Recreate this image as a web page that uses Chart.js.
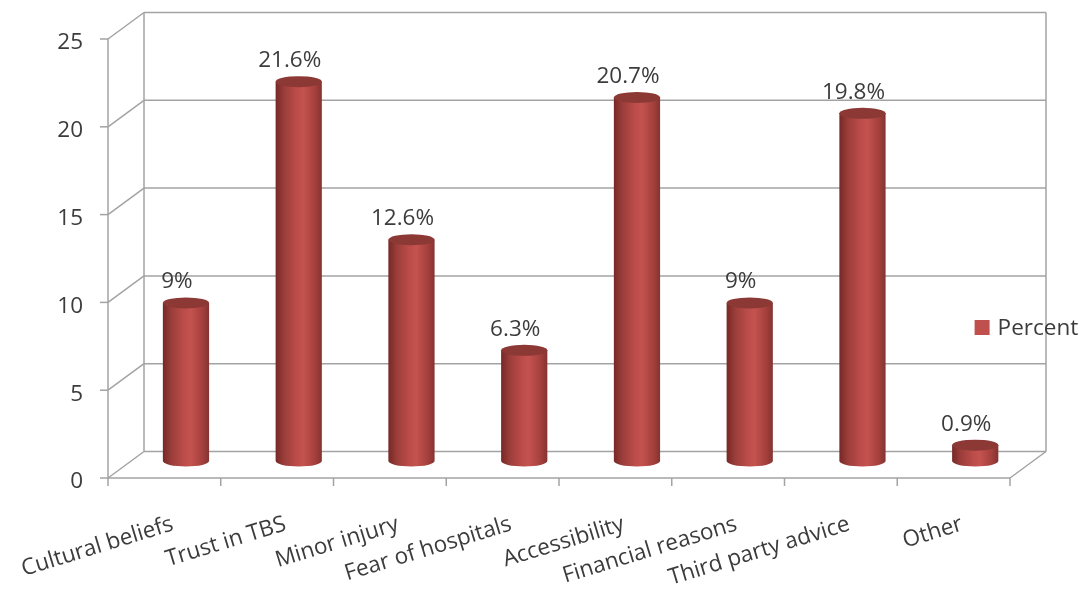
<!DOCTYPE html>
<html lang="en">
<head>
    <meta charset="UTF-8">
    <meta name="viewport" content="width=device-width, initial-scale=1.0">
    <title>Reasons for choosing TBS</title>
    <script src="https://cdn.jsdelivr.net/npm/chart.js"></script>
    <style>
        html, body { margin: 0; padding: 0; background: #fff; }
        #wrap { width: 1083px; height: 591px; position: relative; }
    </style>
</head>
<body>
    <div id="wrap">
        <canvas id="reasons-chart"></canvas>
    </div>

    <script>
        // Chart data
        const categories = ['Cultural beliefs', 'Trust in TBS', 'Minor injury', 'Fear of hospitals',
                            'Accessibility', 'Financial reasons', 'Third party advice', 'Other'];
        const percentValues = [9, 21.6, 12.6, 6.3, 20.7, 9, 19.8, 0.9];
        const yTicks = [0, 5, 10, 15, 20, 25];
        const seriesName = 'Percent';

        // 3D look: the bars sit on a middle plane, the axes in front, the walls behind
        const FRONT = { dx: -21.6, dy: 17 };
        const BACK = { dx: 14.4, dy: -9.5 };
        const BAR_PCT = 0.41;
        const CAP_RY = 5.5;
        const FONT = '22.5px "Open Sans"';
        const TEXT_COLOR = '#3c3c3c';
        const LINE_COLOR = '#a3a3a3';

        function cylinderGradient(ctx, x, half) {
            const g = ctx.createLinearGradient(x - half, 0, x + half, 0);
            g.addColorStop(0, '#762826');
            g.addColorStop(0.18, '#9a3d3a');
            g.addColorStop(0.45, '#bb4c49');
            g.addColorStop(0.6, '#c4534f');
            g.addColorStop(0.85, '#a5403d');
            g.addColorStop(1, '#843331');
            return g;
        }

        function line(ctx, x1, y1, x2, y2) {
            ctx.beginPath();
            ctx.moveTo(x1, y1);
            ctx.lineTo(x2, y2);
            ctx.stroke();
        }

        const frame3d = {
            id: 'frame3d',
            beforeDatasetsDraw(chart) {
                const { ctx, chartArea: a, scales: { x, y } } = chart;
                const y0 = y.getPixelForValue(0);
                const yTop = y.getPixelForValue(yTicks[yTicks.length - 1]);
                ctx.save();
                ctx.strokeStyle = LINE_COLOR;
                ctx.lineWidth = 1.5;

                // back wall gridlines + diagonals to the front axis
                yTicks.forEach(v => {
                    const py = y.getPixelForValue(v);
                    line(ctx, a.left + BACK.dx, py + BACK.dy, a.right + BACK.dx, py + BACK.dy);
                    line(ctx, a.left + FRONT.dx, py + FRONT.dy, a.left + BACK.dx, py + BACK.dy);
                    // tick mark on the front axis
                    line(ctx, a.left + FRONT.dx - 8, py + FRONT.dy, a.left + FRONT.dx, py + FRONT.dy);
                });
                line(ctx, a.left + BACK.dx, yTop + BACK.dy, a.left + BACK.dx, y0 + BACK.dy);
                line(ctx, a.right + BACK.dx, yTop + BACK.dy, a.right + BACK.dx, y0 + BACK.dy);

                // front value axis
                line(ctx, a.left + FRONT.dx, yTop + FRONT.dy, a.left + FRONT.dx, y0 + FRONT.dy);

                // front floor edge and its right diagonal
                line(ctx, a.left + FRONT.dx, y0 + FRONT.dy, a.right + FRONT.dx, y0 + FRONT.dy);
                line(ctx, a.right + FRONT.dx, y0 + FRONT.dy, a.right + BACK.dx, y0 + BACK.dy);

                // category tick marks
                const step = a.width / categories.length;
                for (let k = 0; k <= categories.length; k++) {
                    const px = a.left + k * step + FRONT.dx;
                    line(ctx, px, y0 + FRONT.dy, px, y0 + FRONT.dy + 8);
                }
                ctx.restore();
            },
            afterDatasetsDraw(chart) {
                const { ctx, chartArea: a, scales: { x, y } } = chart;
                const meta = chart.getDatasetMeta(0);
                ctx.save();

                // cylinder ends
                meta.data.forEach(bar => {
                    const half = bar.width / 2;
                    ctx.fillStyle = cylinderGradient(ctx, bar.x, half);
                    ctx.beginPath();
                    ctx.ellipse(bar.x, bar.base, half, CAP_RY, 0, 0, Math.PI);
                    ctx.fill();

                    ctx.fillStyle = '#8c3835';
                    ctx.beginPath();
                    ctx.ellipse(bar.x, bar.y, half, CAP_RY, 0, 0, Math.PI * 2);
                    ctx.fill();
                });

                ctx.font = FONT;
                ctx.fillStyle = TEXT_COLOR;

                // value labels
                ctx.textAlign = 'center';
                ctx.textBaseline = 'middle';
                meta.data.forEach((bar, i) => {
                    ctx.fillText(percentValues[i] + '%', bar.x - 9, bar.y - 21);
                });

                // value axis labels
                ctx.textAlign = 'right';
                yTicks.forEach(v => {
                    ctx.fillText(String(v), a.left + FRONT.dx - 25, y.getPixelForValue(v) + FRONT.dy + 4);
                });

                // rotated category labels
                const y0 = y.getPixelForValue(0) + FRONT.dy;
                categories.forEach((name, i) => {
                    ctx.save();
                    ctx.translate(x.getPixelForValue(i) + FRONT.dx + 5, y0 + 35);
                    ctx.rotate(-17 * Math.PI / 180);
                    ctx.textAlign = 'right';
                    ctx.textBaseline = 'top';
                    ctx.fillText(name, 0, 0);
                    ctx.restore();
                });

                // legend
                const ly = (a.top + a.bottom) / 2 + 86;
                const lx = a.right - 57;
                ctx.fillStyle = '#c0504d';
                ctx.fillRect(lx, ly - 7.5, 15, 15);
                ctx.fillStyle = TEXT_COLOR;
                ctx.textAlign = 'left';
                ctx.textBaseline = 'middle';
                ctx.fillText(chart.data.datasets[0].label, lx + 23, ly + 1);

                ctx.restore();
            }
        };

        document.addEventListener('DOMContentLoaded', function() {
            const canvas = document.getElementById('reasons-chart');

            new Chart(canvas, {
                type: 'bar',
                data: {
                    labels: categories,
                    datasets: [{
                        label: seriesName,
                        data: percentValues,
                        borderWidth: 0,
                        barPercentage: BAR_PCT,
                        categoryPercentage: 1,
                        backgroundColor: function(c) {
                            const chart = c.chart;
                            if (!chart.chartArea) return '#c0504d';
                            const half = chart.chartArea.width / categories.length * BAR_PCT / 2;
                            const px = chart.scales.x.getPixelForValue(c.dataIndex);
                            return cylinderGradient(chart.ctx, px, half);
                        }
                    }]
                },
                options: {
                    responsive: true,
                    maintainAspectRatio: false,
                    animation: false,
                    layout: {
                        padding: { left: 129.6, right: 51.4, top: 22, bottom: 130 }
                    },
                    scales: {
                        x: { display: false },
                        y: { display: false, min: 0, max: 25 }
                    },
                    plugins: {
                        legend: { display: false },
                        tooltip: { enabled: false }
                    }
                },
                plugins: [frame3d]
            });
        });
    </script>
</body>
</html>
